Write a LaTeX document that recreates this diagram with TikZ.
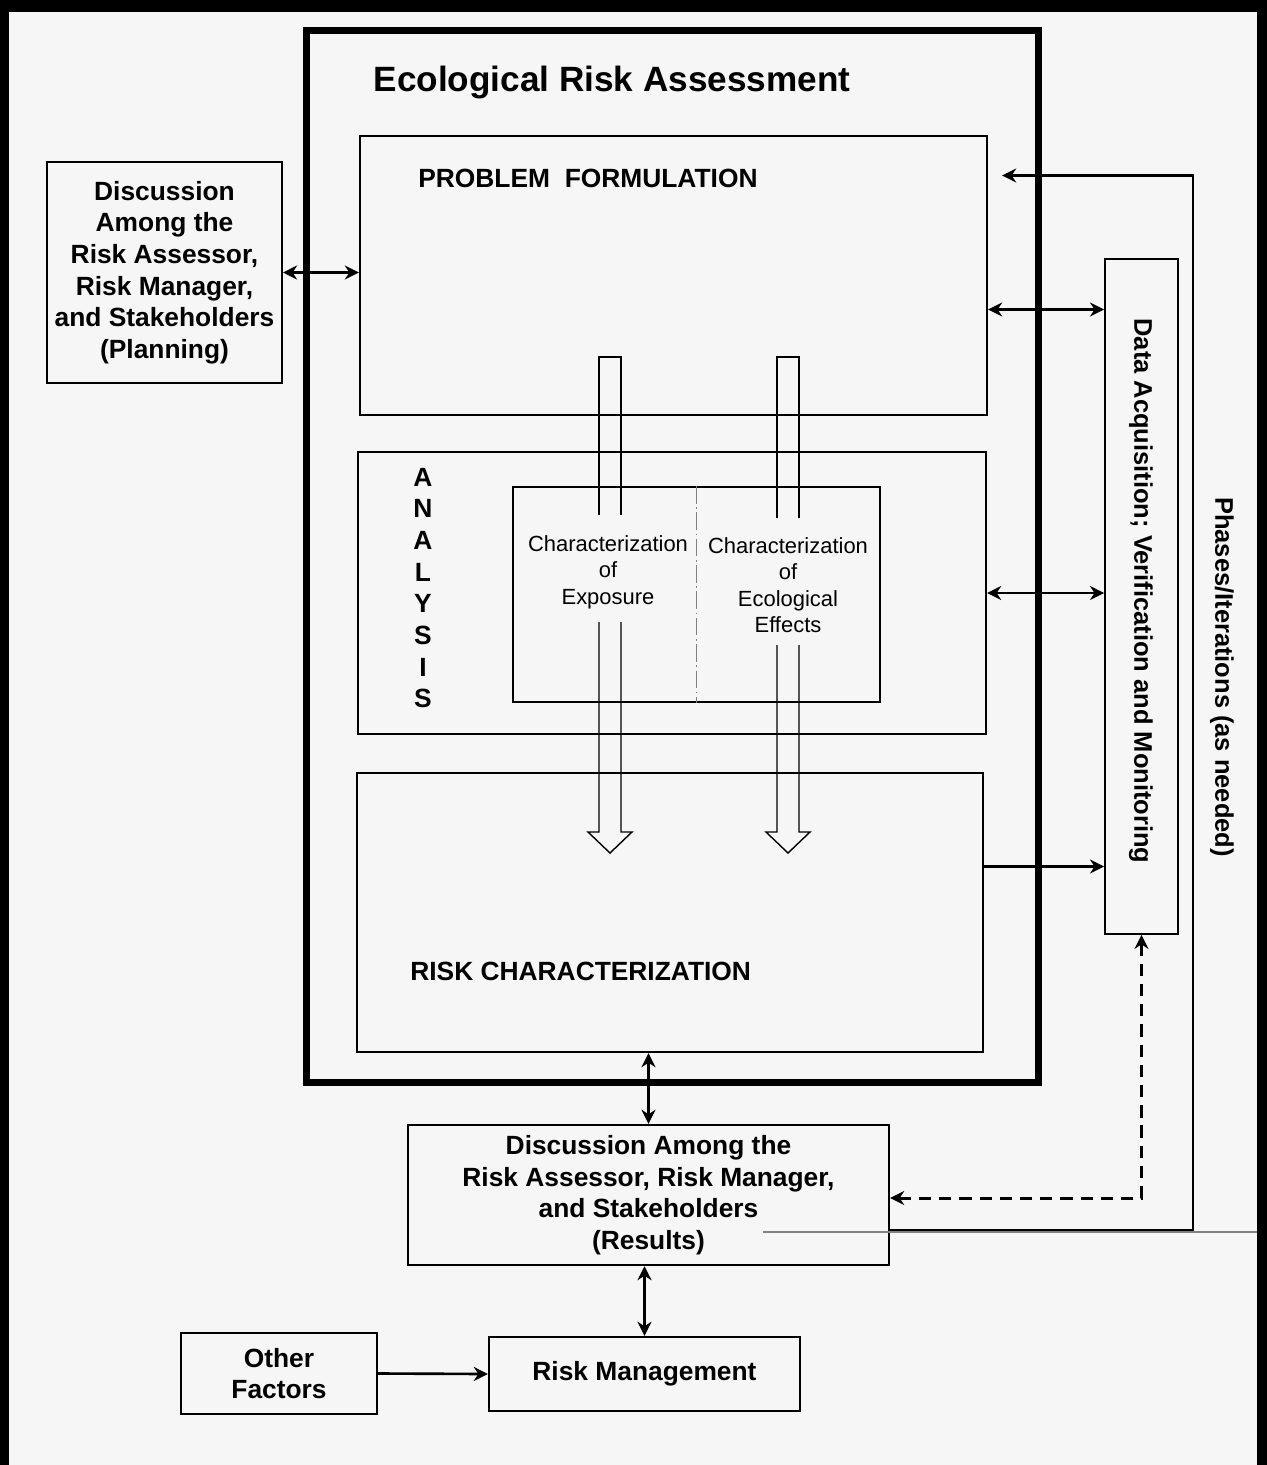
\documentclass[tikz,border=0pt]{standalone}
\usepackage{fontspec}
\setmainfont{Liberation Sans}
\usetikzlibrary{arrows.meta,calc}
\definecolor{paper}{RGB}{246,246,246}

\begin{document}
\begin{tikzpicture}[x=0.02cm, y=-0.02cm,
  >={Stealth[length=8pt,width=8pt]},
  box/.style={draw, line width=1.4pt, inner sep=0pt},
  txt/.style={font=\fontsize{15}{18}\selectfont\bfseries, align=center},
  small/.style={font=\fontsize{12.5}{15}\selectfont, align=center},
  side/.style={font=\fontsize{14.5}{17}\selectfont\bfseries, rotate=-90},
  link/.style={line width=1.5pt, ->},
  both/.style={line width=1.5pt, <->},
  dline/.style={line width=1.7pt, <->, dash pattern=on 7pt off 4.5pt},
  shaft/.style={line width=0.8pt}]
  \useasboundingbox (0,0) rectangle (1267,1465);
  \fill[paper] (0,0) rectangle (1267,1465);
  \fill (0,0) rectangle (1267,12);
  \fill (0,0) rectangle (9,1465);
  \fill (1257,0) rectangle (1267,1465);

  \node[box, line width=4pt, minimum width=14.66cm, minimum height=21.06cm] (era) at (672.5,556.5) {};
  \node[box, minimum width=12.54cm, minimum height=5.58cm] (pf) at (673.5,275.5) {};
  \node[box, minimum width=12.56cm, minimum height=5.64cm] (an) at (672,593) {};
  \node[box, minimum width=12.52cm, minimum height=5.58cm] (rc) at (670,912.5) {};
  \node[box, line width=1.1pt, minimum width=7.34cm, minimum height=4.3cm] (inner) at (696.5,594.5) {};
  \node[box, line width=1.2pt, minimum width=4.7cm, minimum height=4.42cm, txt] (plan) at (164.5,272.5)
    {Discussion\\Among the\\Risk Assessor,\\Risk Manager,\\and Stakeholders\\(Planning)};
  \node[box, line width=1.1pt, minimum width=1.46cm, minimum height=13.5cm] (data) at (1141.5,596.5) {};
  \node[box, minimum width=9.62cm, minimum height=2.8cm, txt] (res) at (648.5,1195)
    {Discussion Among the\\Risk Assessor, Risk Manager,\\and Stakeholders\\(Results)};
  \node[box, minimum width=6.22cm, minimum height=1.48cm, txt] (rm) at (644.5,1374) {Risk Management};
  \node[box, minimum width=3.92cm, minimum height=1.62cm, txt] (other) at (279,1373.5) {Other\\Factors};

  \node[font=\fontsize{20}{24}\selectfont\bfseries] (title) at (612,82) {Ecological Risk Assessment};
  \node[txt, anchor=west, inner sep=0pt] (pftext) at (418,178) {PROBLEM\ \ FORMULATION};
  \node[txt] (antext) at (423,588) {A\\N\\A\\L\\Y\\S\\I\\S};
  \node[txt, anchor=west, inner sep=0pt] (rctext) at (410,971) {RISK CHARACTERIZATION};
  \node[small] (expo) at (608,572) {Characterization\\of\\Exposure};
  \node[small] (effe) at (788,585) {Characterization\\of\\Ecological\\Effects};
  \node[side] (datatext) at (1141,591) {Data Acquisition; Verification and Monitoring};
  \node[side] (phases) at (1222,677) {Phases/Iterations (as needed)};

  \draw[gray, line width=0.6pt, dash pattern=on 10pt off 2pt on 1pt off 2pt] (inner.north) -- (inner.south);
  \foreach \cx/\ya/\yb in {610/515/622, 788/518/645} {
    \draw[shaft] ({\cx-11},\ya) -- ({\cx-11},357) -- ({\cx+11},357) -- ({\cx+11},\ya);
    \draw[shaft, line join=miter] ({\cx-11},\yb) -- ({\cx-11},832) -- ({\cx-22},832) -- (\cx,853)
      -- ({\cx+22},832) -- ({\cx+11},832) -- ({\cx+11},\yb);
  }

  \coordinate (pfout) at ($(pf.east)+(0,34)$);
  \coordinate (rcout) at ($(rc.east)+(0,-46)$);
  \coordinate (pfin) at ($(pf.east)+(14,-100)$);
  \coordinate (resout) at ($(res.east)+(0,35)$);
  \coordinate (resin) at ($(res.east)+(0,3)$);
  \coordinate (loop) at (1193,0);

  \draw[gray, line width=0.6pt] (763,1232) -- (1257,1232);
  \draw[both] (plan.east) -- (plan.east -| pf.west);
  \draw[both] (pfout) -- (pfout -| data.west);
  \draw[both] (an.east) -- (an.east -| data.west);
  \draw[link] (rcout) -- (rcout -| data.west);
  \draw[both] (res.north) -- (res.north |- rc.south);
  \draw[both] (rm.north |- res.south) -- (rm.north);
  \draw[link] (other.east) -- (rm.west);
  \draw[link] (resout) -- (resout -| loop) |- (pfin);
  \draw[dline] (data.south) |- (resin);
\end{tikzpicture}
\end{document}
